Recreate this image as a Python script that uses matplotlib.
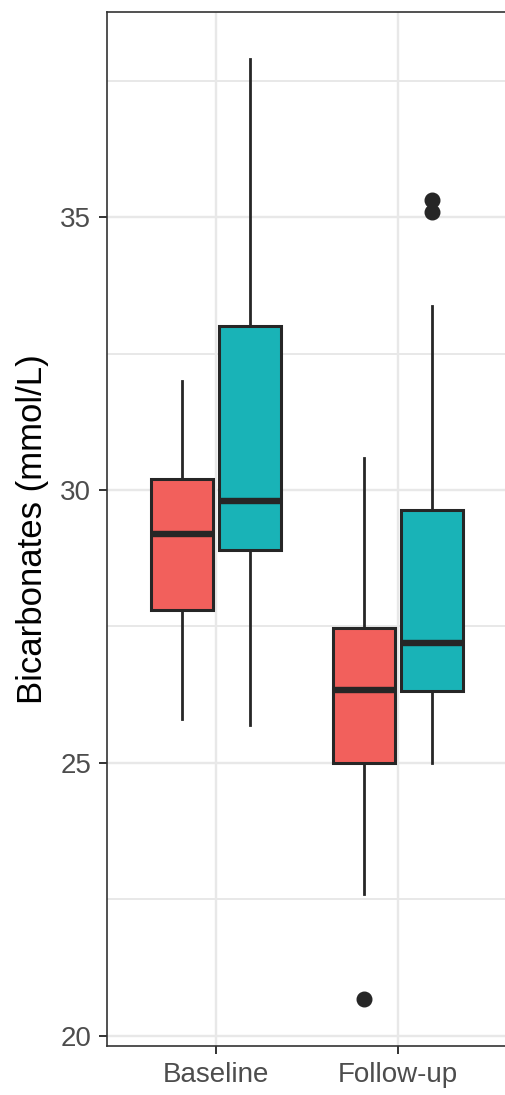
import matplotlib

matplotlib.use("Agg")
import matplotlib.pyplot as plt
from matplotlib.ticker import MultipleLocator

# --- Data --------------------------------------------------------------------
timepoints = ["Baseline", "Follow-up"]
groups = ["group A", "group B"]

# per group: one value per timepoint
q1 = {"group A": [27.80, 25.00], "group B": [28.90, 26.32]}
median = {"group A": [29.20, 26.33], "group B": [29.80, 27.19]}
q3 = {"group A": [30.20, 27.48], "group B": [33.00, 29.63]}
whisker_lo = {"group A": [25.80, 22.60], "group B": [25.70, 25.00]}
whisker_hi = {"group A": [32.00, 30.58], "group B": [37.90, 33.38]}
outliers = {"group A": [[], [20.67]], "group B": [[], [35.10, 35.32]]}

C_FILL = {"group A": "#F2605C", "group B": "#19B3B7"}
C_EDGE = "#262626"
C_GRID = "#E8E8E8"
C_FRAME = "#333333"

plt.rcParams["font.family"] = ["Liberation Sans", "DejaVu Sans"]

fig = plt.figure(figsize=(5.05, 10.95), dpi=100)
ax = fig.add_axes([0.2119, 0.0447, 0.7915, 0.9443])

DODGE = 0.1875
BOX_W = 0.34
for gi, g in enumerate(groups):
    offset = (gi - 0.5) * 2 * DODGE
    stats = []
    for i, tp in enumerate(timepoints):
        stats.append({
            "label": tp,
            "q1": q1[g][i], "med": median[g][i], "q3": q3[g][i],
            "whislo": whisker_lo[g][i], "whishi": whisker_hi[g][i],
            "fliers": outliers[g][i],
        })
    positions = [i + 1 + offset for i in range(len(timepoints))]
    ax.bxp(
        stats, positions=positions, widths=BOX_W, patch_artist=True,
        showcaps=False, manage_ticks=False,
        boxprops=dict(facecolor=C_FILL[g], edgecolor=C_EDGE, linewidth=2.2),
        medianprops=dict(color=C_EDGE, linewidth=4.6, solid_capstyle="butt"),
        whiskerprops=dict(color=C_EDGE, linewidth=2.0),
        flierprops=dict(marker="o", markerfacecolor=C_EDGE, markeredgecolor=C_EDGE,
                        markersize=10.5, linestyle="none"),
        zorder=3,
    )

# ggplot-like 5% expansion on the continuous axis, 0.6 on the discrete one
all_vals = [v for g in groups for v in whisker_lo[g] + whisker_hi[g]
            + [x for lst in outliers[g] for x in lst]]
lo, hi = min(all_vals), max(all_vals)
pad = 0.05 * (hi - lo)
ax.set_ylim(lo - pad, hi + pad)
ax.set_xlim(0.4, len(timepoints) + 0.6)

ax.set_xticks(range(1, len(timepoints) + 1))
ax.set_xticklabels(timepoints)
ax.yaxis.set_major_locator(MultipleLocator(5))
ax.yaxis.set_minor_locator(MultipleLocator(2.5))

ax.grid(which="major", color=C_GRID, linewidth=1.7, zorder=0)
ax.grid(which="minor", axis="y", color=C_GRID, linewidth=1.4, zorder=0)
ax.set_axisbelow(True)

for sp in ax.spines.values():
    sp.set_color(C_FRAME)
    sp.set_linewidth(1.2)

ax.tick_params(which="major", length=5.5, width=1.4, color=C_FRAME,
               labelsize=20, labelcolor="#4D4D4D")
ax.tick_params(axis="y", pad=6)
ax.tick_params(axis="x", pad=6)
ax.tick_params(which="minor", length=0)

ax.set_ylabel("Bicarbonates (mmol/L)", fontsize=25, color="black",
              va="center", ha="center")
ax.yaxis.set_label_coords(-0.186, 0.5)

fig.savefig("out.png", dpi=100)
